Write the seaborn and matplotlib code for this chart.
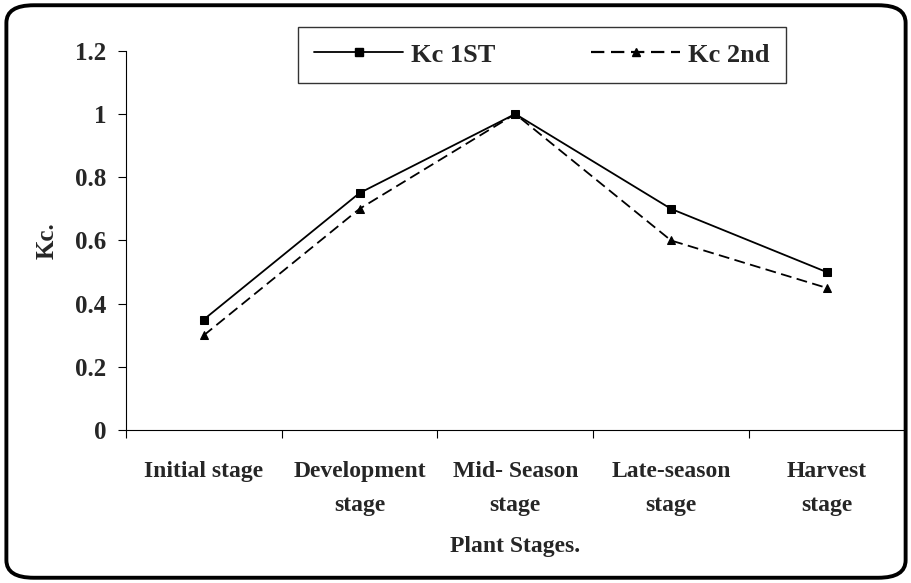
import numpy as np
import pandas as pd
import seaborn as sns
import matplotlib.pyplot as plt
from matplotlib.patches import FancyBboxPatch

stages = ["Initial stage", "Development\nstage", "Mid- Season\nstage",
          "Late-season\nstage", "Harvest\nstage"]
kc_1st = [0.35, 0.75, 1.0, 0.70, 0.50]
kc_2nd = [0.30, 0.70, 1.0, 0.60, 0.45]

sns.set_theme(style="white")
plt.rcParams['font.family'] = ['Liberation Serif', 'DejaVu Serif']
plt.rcParams['font.weight'] = 'bold'

df = pd.DataFrame({
    "stage": list(range(len(stages))) * 2,
    "kc": kc_1st + kc_2nd,
    "series": ["Kc 1ST"] * len(stages) + ["Kc 2nd"] * len(stages),
})

fig = plt.figure(figsize=(9.12, 5.83), dpi=100)
ax = fig.add_axes([0.138, 0.262, 0.854, 0.651])

sns.lineplot(data=df, x="stage", y="kc", hue="series", style="series",
             markers={"Kc 1ST": "s", "Kc 2nd": "^"},
             dashes={"Kc 1ST": "", "Kc 2nd": (6, 3)},
             palette={"Kc 1ST": "black", "Kc 2nd": "black"},
             markersize=5.5, linewidth=1.3, markeredgecolor="black",
             ax=ax, legend=False)

ax.set_xlim(-0.5, len(stages) - 0.5)
ax.set_ylim(0, 1.2)
ax.set_yticks(np.arange(0, 1.21, 0.2))
ax.set_yticklabels(["0", "0.2", "0.4", "0.6", "0.8", "1", "1.2"], fontsize=18, fontweight='bold')

ax.set_xticks(np.arange(-0.5, len(stages), 1.0))
ax.set_xticklabels([])
ax.set_xticks(range(len(stages)), minor=True)
ax.set_xticklabels(stages, minor=True, fontsize=17, fontweight='bold', va='top',
                   linespacing=1.85)
ax.tick_params(axis='x', which='minor', length=0, pad=22)
ax.tick_params(axis='x', which='major', length=6, width=0.8, color='black', direction='out', bottom=True)
ax.tick_params(axis='y', length=6, width=0.8, color='black', direction='out', left=True, pad=8)

for s in ['top', 'right']:
    ax.spines[s].set_visible(False)
for s in ['left', 'bottom']:
    ax.spines[s].set_color('black')
    ax.spines[s].set_linewidth(0.8)

ax.set_xlabel("Plant Stages.", fontsize=17, fontweight='bold', labelpad=14)
ax.set_ylabel("Kc.", fontsize=18, fontweight='bold', labelpad=12)

h1, = ax.plot([], [], color='black', marker='s', markersize=5.5, lw=1.3)
h2, = ax.plot([], [], color='black', marker='^', markersize=5.5, lw=1.6, dashes=(6, 3))
leg = fig.legend([h1, h2], ["Kc 1ST", "Kc 2nd"], ncol=2, loc='upper center',
                 bbox_to_anchor=(0.594, 0.953), frameon=True, fancybox=False,
                 edgecolor='black', handlelength=3.4, handletextpad=0.3,
                 columnspacing=3.6, borderpad=0.6, borderaxespad=0,
                 prop={'size': 19, 'weight': 'bold'})
leg.get_frame().set_linewidth(1.0)

border = FancyBboxPatch((0.007, 0.009), 0.986, 0.982,
                        boxstyle="round,pad=0,rounding_size=0.03",
                        transform=fig.transFigure, fill=False,
                        edgecolor='black', linewidth=2.8)
fig.patches.append(border)

fig.savefig("out.png", dpi=100)
